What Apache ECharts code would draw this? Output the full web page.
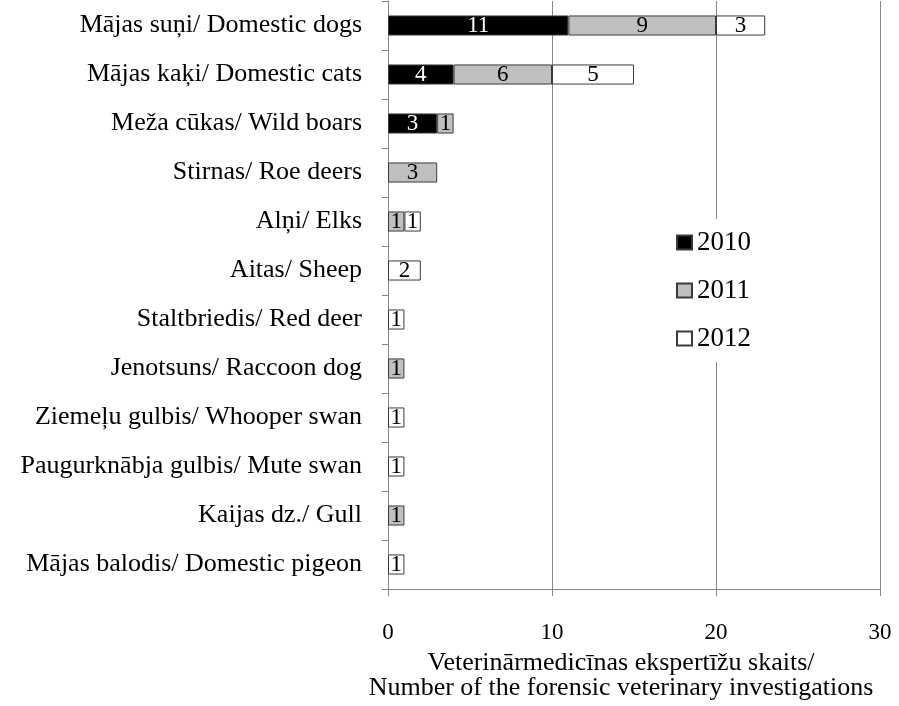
<!DOCTYPE html>
<html lang="lv">
<head>
    <meta charset="UTF-8">
    <title>Veterinārmedicīnas ekspertīzes</title>
    <script src="https://cdn.jsdelivr.net/npm/echarts@6/dist/echarts.min.js"></script>
    <style>
        html, body { margin: 0; padding: 0; background: #fff; }
        #chart { width: 899px; height: 706px; }
    </style>
</head>
<body>
    <div id="chart"></div>
    <script>
        // kategorijas no augšas uz leju
        const categories = [
            'Mājas suņi/ Domestic dogs',
            'Mājas kaķi/ Domestic cats',
            'Meža cūkas/ Wild boars',
            'Stirnas/ Roe deers',
            'Alņi/ Elks',
            'Aitas/ Sheep',
            'Staltbriedis/ Red deer',
            'Jenotsuns/ Raccoon dog',
            'Ziemeļu gulbis/ Whooper swan',
            'Paugurknābja gulbis/ Mute swan',
            'Kaijas dz./ Gull',
            'Mājas balodis/ Domestic pigeon'
        ];
        const years = ['2010', '2011', '2012'];
        const values2010 = [11, 4, 3, 0, 0, 0, 0, 0, 0, 0, 0, 0];
        const values2011 = [9, 6, 1, 3, 1, 0, 0, 1, 0, 0, 1, 0];
        const values2012 = [3, 5, 0, 0, 1, 2, 1, 0, 1, 1, 0, 1];
        const xTicks = [0, 10, 20, 30];

        const font = 'Liberation Serif';
        const fills = ['#000000', '#c0c0c0', '#ffffff'];
        const labelColors = ['#ffffff', '#000000', '#000000'];

        function makeSeries(name, values, i) {
            return {
                name: name,
                type: 'bar',
                stack: 'total',
                barWidth: '41%',
                data: values.map(v => v === 0 ? '-' : v),
                itemStyle: { color: fills[i], borderColor: '#3a3a3a', borderWidth: 1 },
                label: {
                    show: true,
                    position: 'inside',
                    color: labelColors[i],
                    fontFamily: font,
                    fontSize: 23
                }
            };
        }

        const chart = echarts.init(document.getElementById('chart'));
        chart.setOption({
            animation: false,
            backgroundColor: '#ffffff',
            textStyle: { fontFamily: font, color: '#000' },
            grid: { left: 388, right: 19, top: 1, bottom: 117, containLabel: false, outerBoundsMode: 'none' },
            legend: {
                orient: 'vertical',
                left: 670,
                top: 219,
                data: years,
                icon: 'rect',
                itemWidth: 15,
                itemHeight: 14,
                itemGap: 21,
                padding: [10, 6, 10, 6],
                backgroundColor: '#ffffff',
                textStyle: { fontFamily: font, fontSize: 27, color: '#000' }
            },
            xAxis: {
                type: 'value',
                min: xTicks[0],
                max: xTicks[xTicks.length - 1],
                interval: 10,
                name: 'Veterinārmedicīnas ekspertīžu skaits/\nNumber of the forensic veterinary investigations',
                nameLocation: 'middle',
                nameGap: 62,
                nameTextStyle: { fontFamily: font, fontSize: 26, color: '#000', lineHeight: 25, padding: [0, 26, 0, 0] },
                axisLine: { show: true, lineStyle: { color: '#868686' } },
                axisTick: { show: true, length: 7, lineStyle: { color: '#868686' } },
                axisLabel: { fontFamily: font, fontSize: 23, color: '#000', margin: 32 },
                splitLine: { show: true, lineStyle: { color: '#868686' } }
            },
            yAxis: {
                type: 'category',
                inverse: true,
                data: categories,
                axisLine: { show: true, lineStyle: { color: '#868686' } },
                axisTick: { show: true, length: 6, lineStyle: { color: '#868686' } },
                axisLabel: { fontFamily: font, fontSize: 26, color: '#000', margin: 26 }
            },
            series: [
                makeSeries(years[0], values2010, 0),
                makeSeries(years[1], values2011, 1),
                makeSeries(years[2], values2012, 2)
            ]
        });
    </script>
</body>
</html>
